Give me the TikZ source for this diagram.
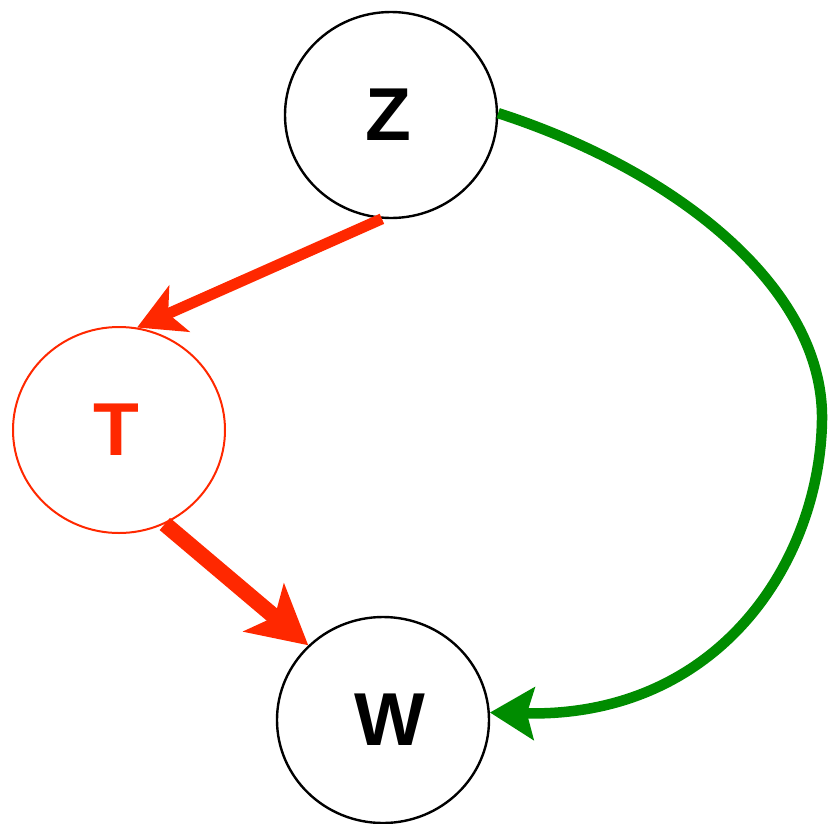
\documentclass[tikz,border=0pt]{standalone}
\usepackage{fontspec}
\setmainfont{Liberation Sans}
\usetikzlibrary{shapes.geometric,arrows.meta}
\definecolor{myred}{RGB}{255,40,0}
\definecolor{mygreen}{RGB}{0,140,0}
\begin{document}
\begin{tikzpicture}[x=1pt,y=-1pt,
  var/.style={ellipse,draw=black,line width=2.4pt,minimum width=212pt,minimum height=206pt,inner sep=0pt,font=\fontsize{75}{75}\selectfont\bfseries},
  redvar/.style={var,draw=myred,line width=2pt,text=myred},
  redarrow/.style={draw=myred,line width=11pt,-{Stealth[length=46pt,width=50pt,inset=12pt]}},
  bigredarrow/.style={draw=myred,line width=16pt,-{Stealth[length=58pt,width=62pt,inset=14pt]}},
  greenarrow/.style={draw=mygreen,line width=10.5pt,-{Stealth[length=44pt,width=52pt,inset=7pt]}}]
\useasboundingbox (0,0) rectangle (828,823);
\node[var] (Z) at (391,115) {Z\kern6pt};
\node[redvar] (T) at (119,430) {T\kern6pt};
\node[var] (W) at (383,720) {\kern14pt W};
\draw[redarrow] (Z.265) -- (T.80);
\draw[bigredarrow] (T.296) -- (W.135);
\draw[greenarrow] (Z.1) .. controls (680,172) and (824,290) .. (822,420) .. controls (820,560) and (720,718) .. (W.4);
\end{tikzpicture}
\end{document}
